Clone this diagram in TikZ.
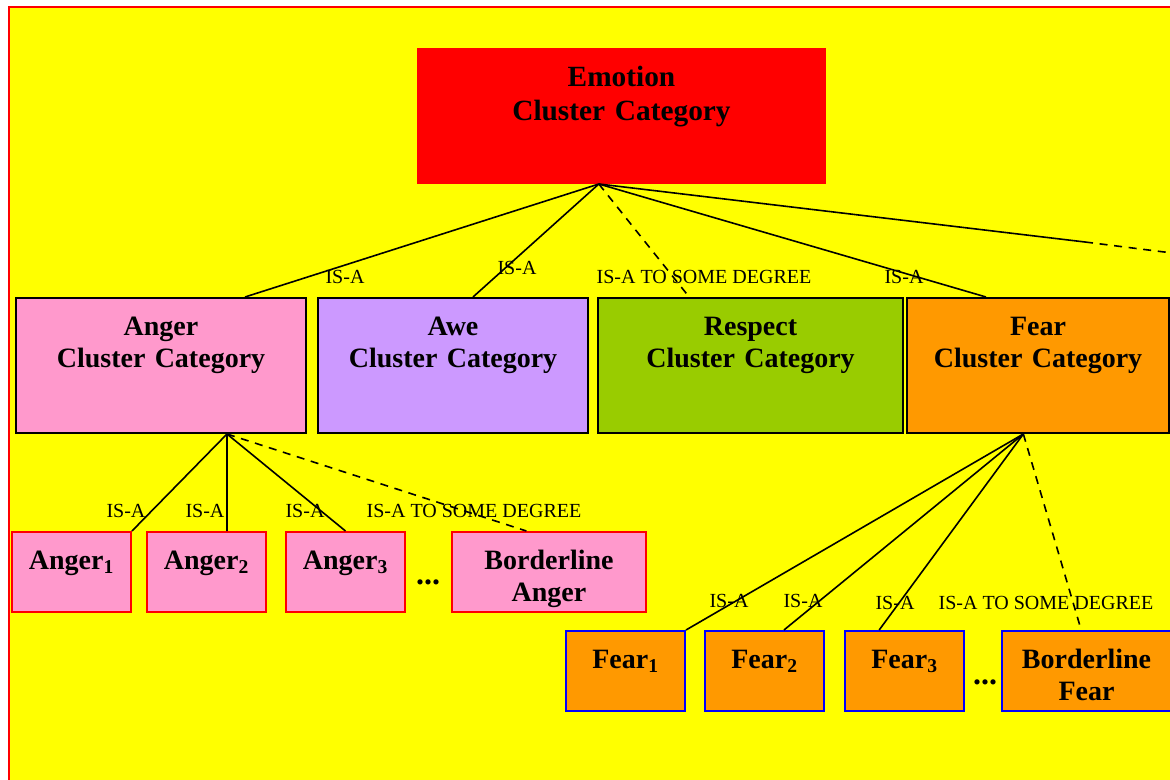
\documentclass[tikz,border=0pt]{standalone}
\usepackage{fontspec}
\setmainfont{Liberation Serif}
\definecolor{framebg}{RGB}{255,255,0}
\definecolor{angerpink}{HTML}{FF99CC}
\definecolor{awepurple}{HTML}{CC99FF}
\definecolor{respectgreen}{HTML}{99CC00}
\definecolor{fearorange}{HTML}{FF9900}
\begin{document}
\begin{tikzpicture}[x=0.75pt,y=-0.75pt,
  cluster/.style={draw=black,line width=1.5pt,inner sep=0pt,anchor=north west,align=center,
    font=\bfseries\fontsize{21}{24}\selectfont,text height=28.5pt,text depth=72.75pt},
  member/.style={line width=1.5pt,inner sep=0pt,anchor=north west,align=center,text width=89.25pt,
    font=\bfseries\fontsize{21}{24}\selectfont,text height=28pt,text depth=32pt},
  angermember/.style={member,draw=red,fill=angerpink},
  fearmember/.style={member,draw=blue,fill=fearorange},
  dots/.style={inner sep=0pt,anchor=base,font=\bfseries\fontsize{24}{24}\selectfont},
  isa/.style={inner sep=0pt,font=\fontsize{15}{18}\selectfont},
  link/.style={line width=1.2pt},
  partly/.style={link,dash pattern=on 6pt off 5pt}]
\useasboundingbox (0,0) rectangle (1170,780);
\clip (0,0) rectangle (1170,780);
\fill[white] (0,0) rectangle (1170,780);
\draw[red,fill=framebg,line width=1.2pt] (9,7) rectangle (1190,800);
\node[cluster,draw=red,fill=red,text width=305.25pt,font=\bfseries\fontsize{22}{25.5}\selectfont,
  text depth=72pt] (emotion) at (417,48) {Emotion\\Cluster Category};
\node[cluster,fill=angerpink,text width=217.5pt] (anger) at (15,297) {Anger\\Cluster Category};
\node[cluster,fill=awepurple,text width=202.5pt] (awe) at (317,297) {Awe\\Cluster Category};
\node[cluster,fill=respectgreen,text width=228.75pt] (respect) at (597,297) {Respect\\Cluster Category};
\node[cluster,fill=fearorange,text width=196.5pt] (fear) at (906,297) {Fear\\Cluster Category};
\node[angermember] (anger1) at (11,531) {Anger\textsubscript{1}};
\node[angermember] (anger2) at (146,531) {Anger\textsubscript{2}};
\node[angermember] (anger3) at (285,531) {Anger\textsubscript{3}};
\node[dots] (angerdots) at (428,584) {...};
\node[angermember,text width=145.5pt] (angerborder) at (451,531) {Borderline\\Anger};
\node[fearmember] (fear1) at (565,630) {Fear\textsubscript{1}};
\node[fearmember] (fear2) at (704,630) {Fear\textsubscript{2}};
\node[fearmember] (fear3) at (844,630) {Fear\textsubscript{3}};
\node[dots] (feardots) at (985,684) {...};
\node[fearmember,text width=126.75pt] (fearborder) at (1001,630) {Borderline\\Fear};
\coordinate (emohub) at ([xshift=-17pt]emotion.south);
\coordinate (angerhub) at ([xshift=49.5pt]anger.south);
\coordinate (fearhub) at ([xshift=-11pt]fear.south);
\coordinate (emobreak) at (1085,242);
\coordinate (emoend) at (1180,254);
\draw[link] (emohub) -- ([xshift=63pt]anger.north);
\draw[link] (emohub) -- ([xshift=15pt]awe.north);
\draw[partly] (emohub) -- ([xshift=-46pt]respect.north);
\draw[link] (emohub) -- ([xshift=-39pt]fear.north);
\draw[link] (emohub) -- (emobreak);
\draw[partly] (emobreak) -- (emoend);
\draw[link] (angerhub) -- (anger1.north east);
\draw[link] (angerhub) -- ([xshift=15.4pt]anger2.north);
\draw[link] (angerhub) -- (anger3.north);
\draw[partly] (angerhub) -- ([xshift=-17pt]angerborder.north);
\draw[link] (fearhub) -- (fear1.north east);
\draw[link] (fearhub) -- ([xshift=14.6pt]fear2.north);
\draw[link] (fearhub) -- ([xshift=-19pt]fear3.north);
\draw[partly] (fearhub) -- ([xshift=-4pt]fearborder.north);
\foreach \x/\y/\txt [count=\i] in {345/277/IS-A, 517/268/IS-A, 704/277/IS-A TO SOME DEGREE, 904/277/IS-A,
  126/511/IS-A, 205/511/IS-A, 305/511/IS-A, 474/511/IS-A TO SOME DEGREE,
  729/601/IS-A, 803/601/IS-A, 895/603/IS-A, 1046/603/IS-A TO SOME DEGREE}
  \node[isa] (isa\i) at (\x,\y) {\txt};
\end{tikzpicture}
\end{document}
